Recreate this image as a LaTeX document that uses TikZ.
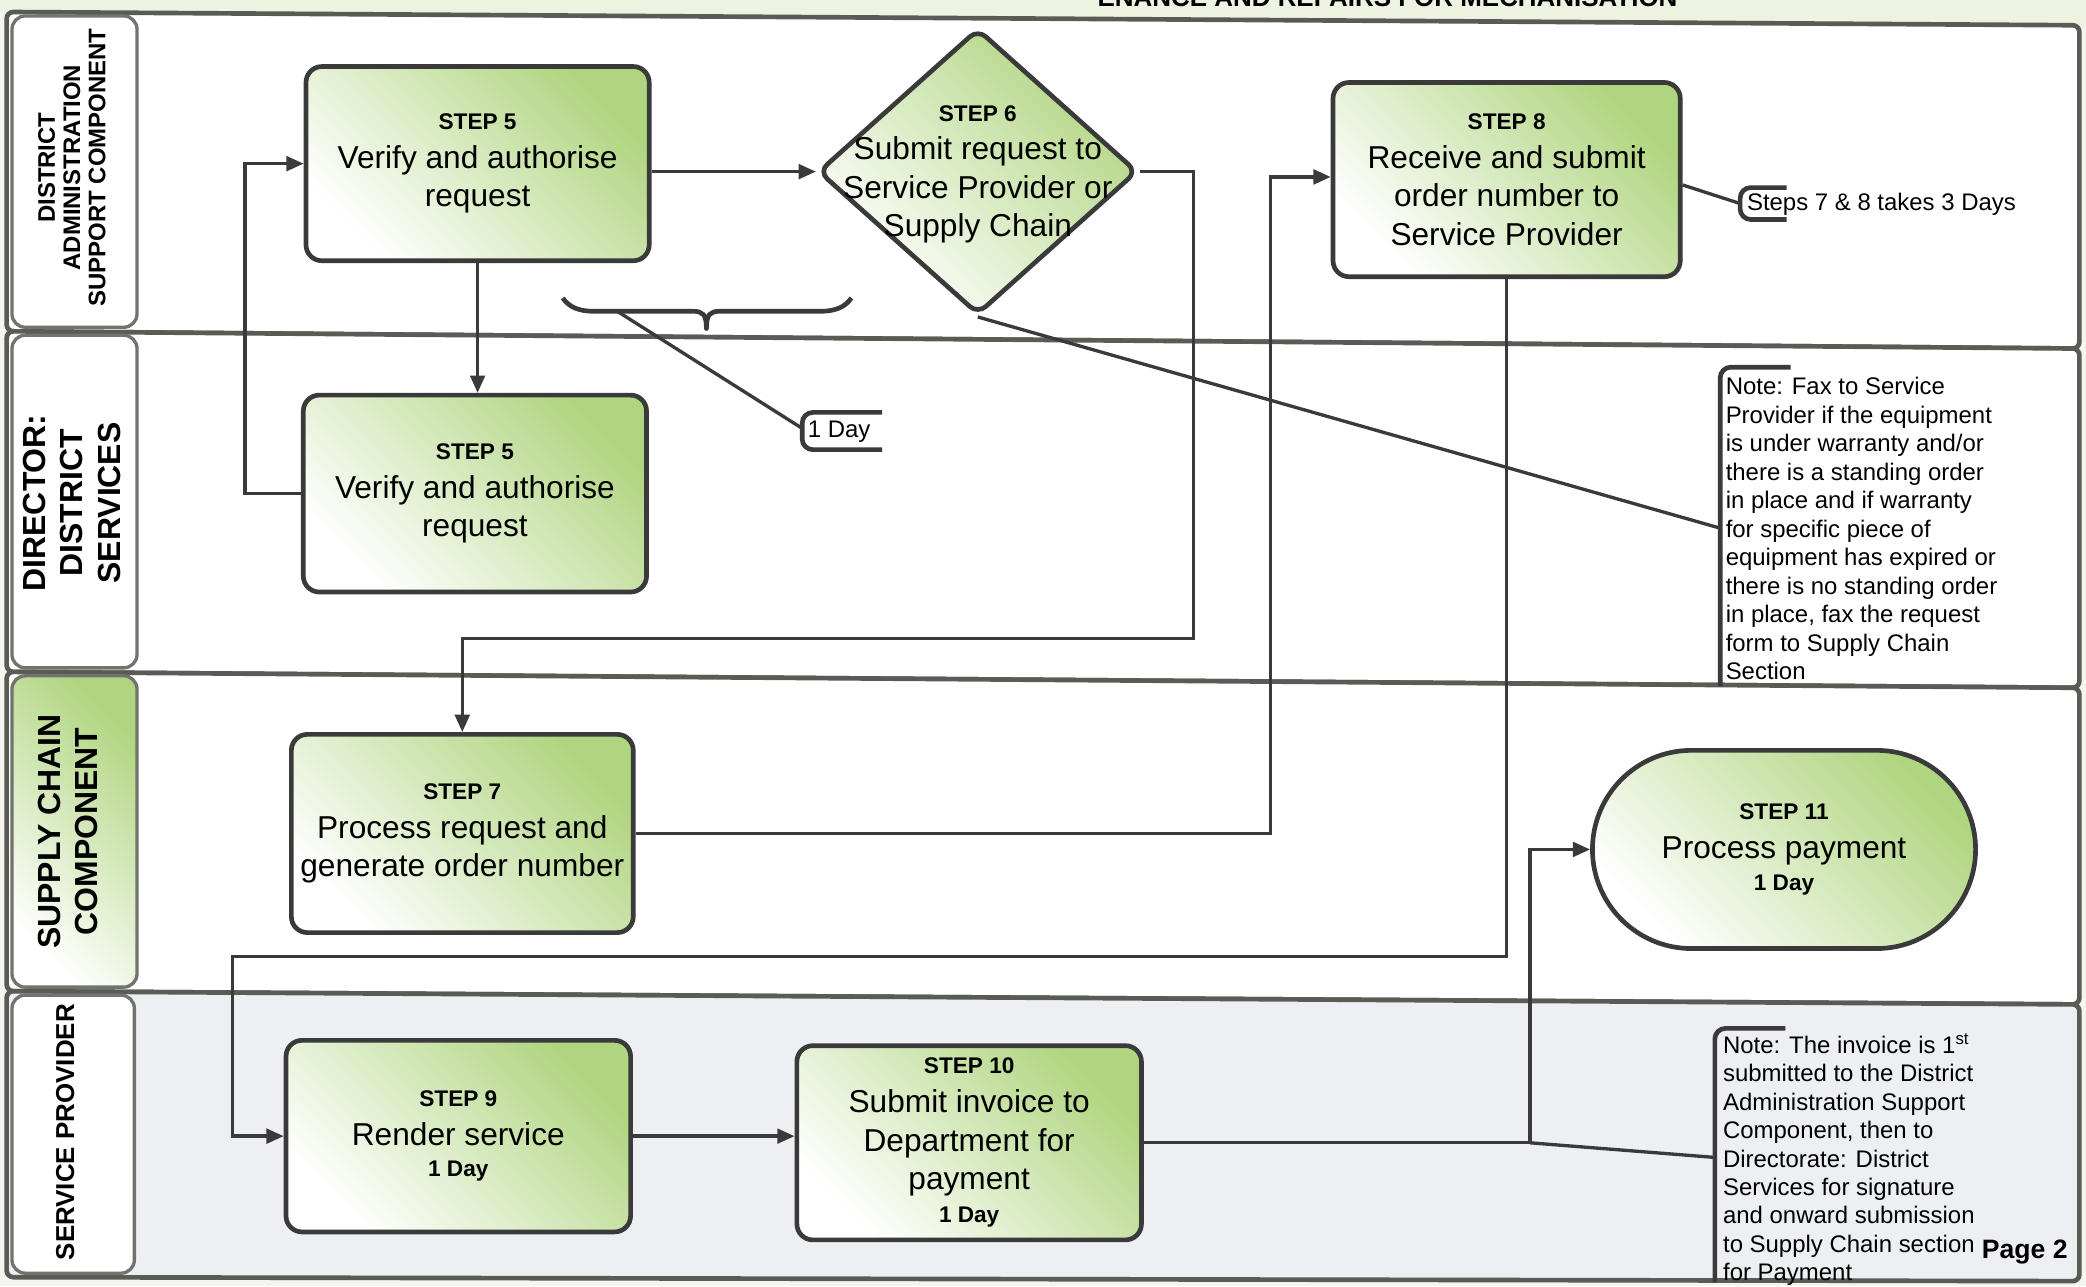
\documentclass[tikz,border=0pt]{standalone}
\usepackage{fontspec}
\setmainfont{Liberation Sans}
\usetikzlibrary{arrows.meta,shapes.geometric,shapes.misc,calc}

\definecolor{gA}{RGB}{176,213,128}
\definecolor{lnc}{RGB}{58,58,58}
\definecolor{lanec}{RGB}{88,92,84}
\definecolor{bgc}{RGB}{243,245,238}
\definecolor{lfour}{RGB}{237,239,242}
\definecolor{titlec}{RGB}{238,242,224}

\newcommand\mainf{\fontsize{23.8}{29}\selectfont}
\newcommand\stepf{\fontsize{17}{20}\selectfont\bfseries}
\newcommand\notef{\fontsize{18}{21.4}\selectfont}

\tikzset{
  greenfill/.style={top color=gA, bottom color=white, shading angle=-45},
  stepbox/.style={draw=lnc, line width=3.5pt, rounded corners=12pt, greenfill,
    align=center, font=\mainf, inner sep=0pt},
  lane/.style={draw=lanec, line width=3.5pt, rounded corners=5pt},
  labbox/.style={draw=lanec!85, line width=2.5pt, rounded corners=10pt},
  lanetext/.style={rotate=90, align=center, font=\bfseries, inner sep=0pt},
  conn/.style={draw=lnc, line width=2.5pt},
  arr/.style={conn, -{Triangle[length=13pt,width=11pt]}},
  brk/.style={draw=lnc, line width=3.5pt, rounded corners=8pt},
  notetext/.style={font=\notef, align=left, inner sep=0pt},
}

\begin{document}
\begin{tikzpicture}[x=1pt,y=-1pt]
\useasboundingbox (0,0) rectangle (1568,967);
\fill[bgc] (0,0) rectangle (1568,967);
\fill[titlec] (0,0) -- (1568,0) -- (1568,20) -- (0,9) -- cycle;
\node[font=\fontsize{19.5}{22}\selectfont\bfseries, anchor=base, inner sep=0pt] (title) at (1043,5) {ENANCE AND REPAIRS FOR MECHANISATION};

% lanes
\draw[lane, fill=white] (5,9) -- (1563,19) -- (1563,262) -- (5,249) -- cycle;
\draw[lane, fill=white] (5,249) -- (1563,262) -- (1563,517) -- (5,505) -- cycle;
\draw[lane, fill=white] (5,505) -- (1563,517) -- (1563,755) -- (5,745) -- cycle;
\draw[lane, fill=lfour] (5,745) -- (1563,755) -- (1563,963) -- (5,960) -- cycle;

% lane labels
\draw[labbox, fill=white] (9,12) rectangle (103,246);
\draw[labbox, fill=white] (9,252) rectangle (103,502);
\draw[labbox, greenfill] (9,508) rectangle (103,742);
\draw[labbox, fill=white] (9,748) rectangle (101,957);

\node[lanetext, font=\fontsize{18}{19}\selectfont\bfseries] (lab1) at (54,126) {DISTRICT\\ADMINISTRATION\\SUPPORT COMPONENT};
\node[lanetext, font=\fontsize{24}{28}\selectfont\bfseries] (lab2) at (54,378) {DIRECTOR:\\DISTRICT\\SERVICES};
\node[lanetext, font=\fontsize{24}{28}\selectfont\bfseries] (lab3) at (51,625) {SUPPLY CHAIN\\COMPONENT};
\node[lanetext, font=\fontsize{19.5}{22}\selectfont\bfseries] (lab4) at (49,851) {SERVICE PROVIDER};

% steps
\node[stepbox, minimum width=258pt, minimum height=146pt] (s5a) at (359,123)
  {{\stepf STEP 5}\\Verify and authorise\\request};
\node[diamond, draw=lnc, line width=3.5pt, rounded corners=8pt, greenfill,
  minimum width=240pt, minimum height=215pt, inner sep=0pt] (s6) at (735,129) {};
\node[align=center, font=\mainf, inner sep=0pt] (s6t) at (735,131)
  {{\stepf STEP 6}\\Submit request to\\Service Provider or\\Supply Chain};
\node[stepbox, minimum width=261pt, minimum height=146pt] (s8) at (1132.5,135)
  {{\stepf STEP 8}\\Receive and submit\\order number to\\Service Provider};
\node[stepbox, minimum width=258pt, minimum height=148pt] (s5b) at (357,371)
  {{\stepf STEP 5}\\Verify and authorise\\request};
\node[stepbox, minimum width=257pt, minimum height=149pt] (s7) at (347.5,626.5)
  {{\stepf STEP 7}\\Process request and\\generate order number};
\node[rounded rectangle, draw=lnc, line width=3.5pt, greenfill, align=center,
  font=\mainf, inner sep=0pt, minimum width=288pt, minimum height=149pt] (s11) at (1341,638.5)
  {{\stepf STEP 11}\\Process payment\\[-5pt]{\stepf 1 Day}};
\node[stepbox, minimum width=259pt, minimum height=144pt] (s9) at (344.5,854)
  {{\stepf STEP 9}\\Render service\\[-5pt]{\stepf 1 Day}};
\node[stepbox, minimum width=259pt, minimum height=146pt] (s10) at (728.5,859)
  {{\stepf STEP 10}\\Submit invoice to\\Department for\\payment\\[-4pt]{\stepf 1 Day}};

% brace and 1 Day callout
\draw[draw=lnc, line width=3.5pt, line join=round] (423,224) .. controls (428,231) and (435,234) .. (447,234) -- (521,234)
  .. controls (528,234) and (531,236) .. (531,247)
  .. controls (531,236) and (534,234) .. (541,234) -- (616,234)
  .. controls (628,234) and (635,231) .. (640,224);
\coordinate (brp) at (464,234);
\draw[brk] (663,310) -- (603,310) -- (603,338) -- (663,338);
\node[font=\notef, anchor=base west, inner sep=0pt] (c1d) at (607,329) {1 Day};
\coordinate (c1da) at (603,322);
\draw[conn] (brp) -- (c1da);

% steps 7 & 8 callout
\draw[brk] (1343,141) -- (1308,141) -- (1308,165) -- (1343,165);
\node[font=\notef, anchor=base west, inner sep=0pt] (c78) at (1313,158) {Steps 7 \& 8 takes 3 Days};
\coordinate (c78a) at (1308,153);
\draw[conn] ($(s8.east)+(0,4)$) -- (c78a);

% notes
\draw[brk] (1346,276) -- (1293,276) -- (1293,516);
\coordinate (n1c) at (1293,397);
\node[notetext, anchor=north west] (n1) at (1297,283.5)
  {Note: Fax to Service\\Provider if the equipment\\is under warranty and/or\\there is a standing order\\in place and if warranty\\for specific piece of\\equipment has expired or\\there is no standing order\\in place, fax the request\\form to Supply Chain\\Section};
\draw[brk] (1342,773) -- (1289,773) -- (1289,964);
\coordinate (n2c) at (1289,870);
\node[notetext, anchor=north west] (n2) at (1295,777)
  {Note: The invoice is 1\textsuperscript{st}\\submitted to the District\\Administration Support\\Component, then to\\Directorate: District\\Services for signature\\and onward submission\\to Supply Chain section\\for Payment};
\node[font=\fontsize{20}{24}\selectfont\bfseries, inner sep=0pt] (pg) at (1522,941) {Page 2};

% bend points
\coordinate (b1) at (897,480);
\coordinate (b2) at (955,133);
\coordinate (b3) at (175,719);
\coordinate (b4) at (1150,859);

% connectors
\draw[arr] (s5a.east |- s6.west) -- (s6.west);
\draw[arr] (s5a.south) -- (s5a.south |- s5b.north);
\draw[arr] (s5b.west) -- ++(-42,0) |- (s5a.west);
\draw[arr] (s6.east) -| (b1) -| (s7.north);
\draw[arr] (s7.east) -| (b2) -- (b2 -| s8.west);
\draw[arr] (s8.south) |- (b3) |- (s9.west);
\draw[arr] (s9.east) -- (s9.east -| s10.west);
\draw[arr] (s10.east) -| (b4 |- s11.west) -- (s11.west);
\draw[conn] (s6.south) -- (n1c);
\draw[conn] (b4) -- (n2c);
\end{tikzpicture}
\end{document}
